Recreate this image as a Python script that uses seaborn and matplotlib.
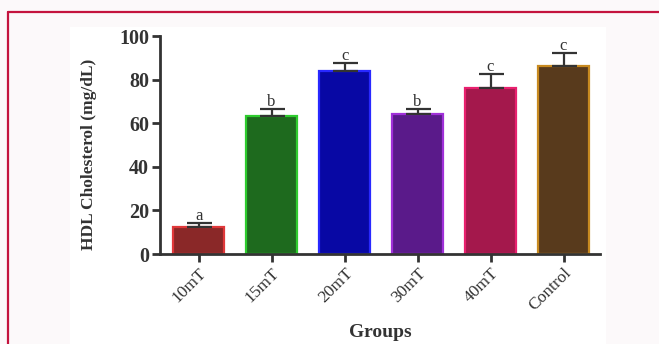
import matplotlib
matplotlib.use("Agg")
import matplotlib.pyplot as plt
import seaborn as sns
import pandas as pd
from matplotlib.lines import Line2D

# Dados
grupos = ['10mT', '15mT', '20mT', '30mT', '40mT', 'Control']
hdl = [12.4, 63.3, 84.0, 64.2, 76.1, 86.2]
erro = [1.8, 3.2, 3.6, 2.3, 6.5, 6.0]
letras = ['a', 'b', 'c', 'b', 'c', 'c']

cores = ['#8a2828', '#1e6a1e', '#0808a4', '#5a1a8a', '#a4184c', '#583a1c']
bordas = ['#e0383a', '#2ecc2e', '#2828ff', '#a030d8', '#e8206e', '#c88a20']

sns.set_style("ticks")
plt.rcParams['font.family'] = ['Liberation Serif', 'DejaVu Serif']

df = pd.DataFrame({'grupo': grupos, 'hdl': hdl})

fig = plt.figure(figsize=(6.59, 3.44), dpi=100)
fig.patch.set_facecolor('#fcf9fa')

# painel branco e moldura
fig.add_artist(plt.Rectangle((70 / 659, 0), (606 - 70) / 659, 1 - 27 / 344,
                             transform=fig.transFigure, facecolor='white',
                             edgecolor='none', zorder=-5))
fig.add_artist(Line2D([8 / 659, 1], [1 - 12 / 344, 1 - 12 / 344],
                      transform=fig.transFigure, color='#c4143e', lw=1.6))
fig.add_artist(Line2D([8 / 659, 8 / 659], [0, 1 - 12 / 344],
                      transform=fig.transFigure, color='#c4143e', lw=1.6))

ax = fig.add_axes([160 / 659, 1 - 254 / 344, 440 / 659, (254 - 36) / 344])
ax.set_facecolor('none')

sns.barplot(data=df, x='grupo', y='hdl', hue='grupo', palette=cores,
            saturation=1, width=0.7, legend=False, ax=ax, zorder=2)
for patch, borda in zip(ax.patches, bordas):
    patch.set_edgecolor(borda)
    patch.set_linewidth(1.6)

ax.errorbar(range(len(grupos)), hdl, yerr=[[0] * len(erro), erro], fmt='none',
            ecolor='#333333', elinewidth=1.6, capsize=9, capthick=1.6, zorder=3)
for i, (v, e, l) in enumerate(zip(hdl, erro, letras)):
    ax.text(i, v + e - 0.5, l, ha='center', va='bottom', fontsize=12, color='#333333')

ax.set_xlim(-0.53, 5.5)
ax.set_ylim(0, 100)
ax.set_yticks([0, 20, 40, 60, 80, 100])
sns.despine(ax=ax)
for s in ['left', 'bottom']:
    ax.spines[s].set_linewidth(2)
    ax.spines[s].set_color('#333333')
ax.tick_params(axis='both', width=2, length=6, color='#333333', labelcolor='#333333')
ax.tick_params(axis='y', labelsize=14.5, pad=2)
ax.tick_params(axis='x', labelsize=12.5, pad=2)
for lab in ax.get_yticklabels():
    lab.set_fontweight('bold')
plt.setp(ax.get_xticklabels(), rotation=45, ha='right', rotation_mode='anchor')

ax.set_ylabel('HDL Cholesterol (mg/dL)', fontsize=12.5, fontweight='bold', color='#333333')
ax.yaxis.set_label_coords(-0.143, 0.455)
ax.set_xlabel('Groups', fontsize=14, fontweight='bold', color='#333333', labelpad=7)

fig.savefig('out.png', dpi=100, facecolor=fig.get_facecolor())
